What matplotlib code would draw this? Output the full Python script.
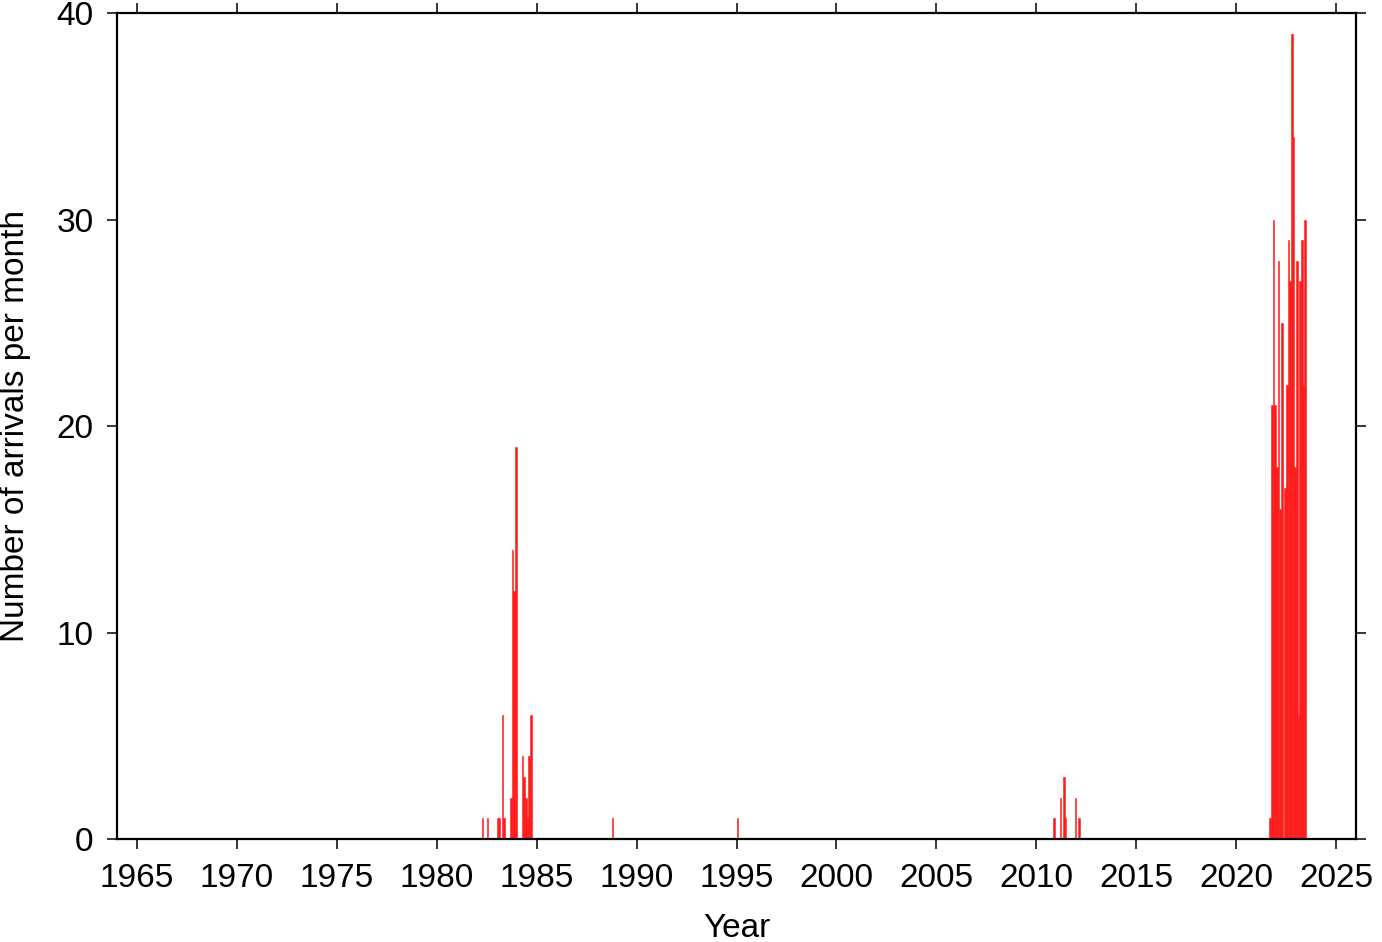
import numpy as np
import matplotlib.pyplot as plt

plt.rcParams['font.family'] = ['Liberation Sans', 'DejaVu Sans']

# monthly arrival counts (year, month, count); months without arrivals are zero
years = [1982, 1982, 1983, 1983, 1983, 1983, 1983, 1983, 1983, 1983,
         1984, 1984, 1984, 1984, 1984, 1984,
         1988, 1995,
         2010, 2011, 2011, 2011, 2011, 2012,
         2021, 2021, 2021, 2021,
         2022, 2022, 2022, 2022, 2022, 2022, 2022, 2022, 2022, 2022, 2022, 2022,
         2023, 2023, 2023, 2023, 2023, 2023]
months = [4, 7, 1, 2, 4, 5, 9, 10, 11, 12,
          4, 5, 6, 7, 8, 9,
          10, 1,
          11, 3, 5, 6, 12, 2,
          9, 10, 11, 12,
          1, 2, 3, 4, 5, 6, 7, 8, 9, 10, 11, 12,
          1, 2, 3, 4, 5, 6]
counts = [1, 1, 1, 1, 6, 1, 2, 14, 12, 19,
          4, 3, 2, 1, 4, 6,
          1, 1,
          1, 2, 3, 1, 2, 1,
          1, 21, 30, 21,
          18, 28, 16, 25, 0, 17, 22, 29, 27, 39, 34, 18,
          28, 6, 27, 29, 22, 30]

x_ticks = list(range(1965, 2030, 5))
y_ticks = [0, 10, 20, 30, 40]

# bar centre = middle of the month
t = np.array(years) + (np.array(months) - 0.5) / 12.0

fig = plt.figure(figsize=(13.82, 9.42), dpi=100)
ax = fig.add_axes([0.0847, 0.1093, 0.8965, 0.8769])

ax.bar(t, counts, width=1 / 12.0, color='#ff1a1a', edgecolor='#ff1a1a', linewidth=0.4)

ax.set_xlim(1964, 2026)
ax.set_ylim(0, 40)
ax.set_xticks(x_ticks)
ax.set_yticks(y_ticks)

for s in ax.spines.values():
    s.set_linewidth(1.6)
ax.tick_params(direction='out', length=7, width=1.1, labelsize=24, pad=10,
               top=True, right=True, labeltop=False, labelright=False)

ax.set_xlabel('Year', fontsize=24, labelpad=14)
ax.set_ylabel('Number of arrivals per month', fontsize=24, labelpad=18)

plt.savefig('out.png', dpi=100)
